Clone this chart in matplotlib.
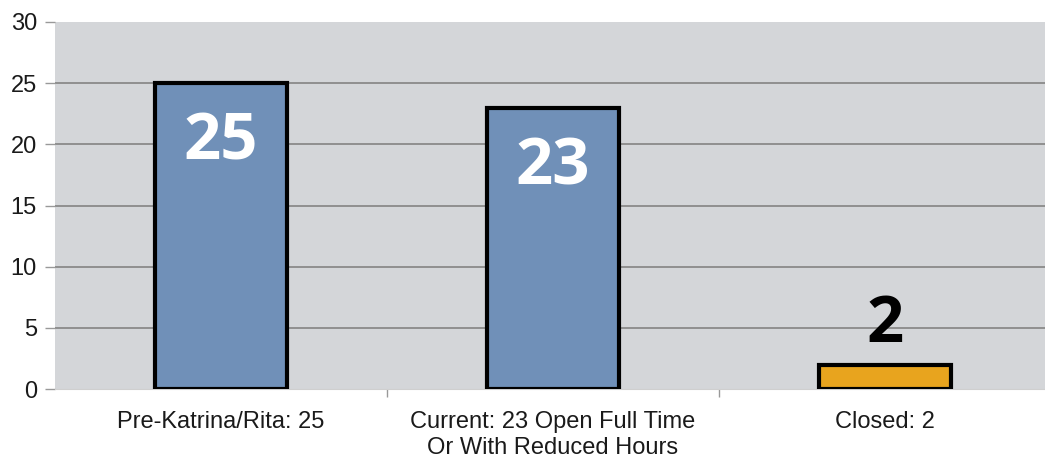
import matplotlib.pyplot as plt

# Dati: strutture prima e dopo gli uragani
categories = ["Pre-Katrina/Rita: 25",
              "Current: 23 Open Full Time\nOr With Reduced Hours",
              "Closed: 2"]
values = [25, 23, 2]
bar_colors = ["#7090b8", "#7090b8", "#e8a41e"]
label_colors = ["white", "white", "black"]
yticks = [0, 5, 10, 15, 20, 25, 30]

W, H = 1045, 462
fig = plt.figure(figsize=(W / 100, H / 100), dpi=100)
ax = fig.add_axes([55 / W, 1 - 389 / H, (1051 - 55) / W, (389 - 22) / H])
ax.set_facecolor("#d4d6d9")

x = list(range(len(values)))
ax.bar(x, values, width=0.40, color=bar_colors, edgecolor="black",
       linewidth=3, zorder=3)

# griglia orizzontale (senza linea al bordo superiore)
for yv in yticks[1:-1]:
    ax.axhline(yv, color="#8a8a8a", linewidth=1.3, zorder=1)

# valori: bianchi dentro le barre alte, neri sopra quella bassa
for xi, v, c in zip(x, values, label_colors):
    if c == "white":
        ax.text(xi, v - 2.25, str(v), ha="center", va="top", color=c,
                fontsize=47, fontweight="bold", family="Open Sans", zorder=4)
    else:
        ax.text(xi, v + 0.5, str(v), ha="center", va="bottom", color=c,
                fontsize=47, fontweight="bold", family="Open Sans", zorder=4)

ax.set_xlim(-0.5, 2.5)
ax.set_ylim(0, 30)
ax.set_yticks(yticks)
ax.set_yticklabels([str(t) for t in yticks], fontsize=17,
                   family="Liberation Sans", color="#1a1a1a")
ax.tick_params(axis="y", length=7, width=1, color="#999999", pad=6)

# tick dell'asse x ai confini tra le categorie
ax.set_xticks([0.5, 1.5])
ax.set_xticklabels([])
ax.tick_params(axis="x", length=6, width=1, color="#999999")
for xi, cat in zip(x, categories):
    ax.text(xi, -1.8, cat, ha="center", va="top", fontsize=17,
            family="Liberation Sans", color="#1a1a1a", linespacing=1.25,
            clip_on=False)

for side in ["top", "right", "left"]:
    ax.spines[side].set_visible(False)
ax.spines["bottom"].set_color("#cfcfcf")

fig.savefig("out.png", dpi=100)
